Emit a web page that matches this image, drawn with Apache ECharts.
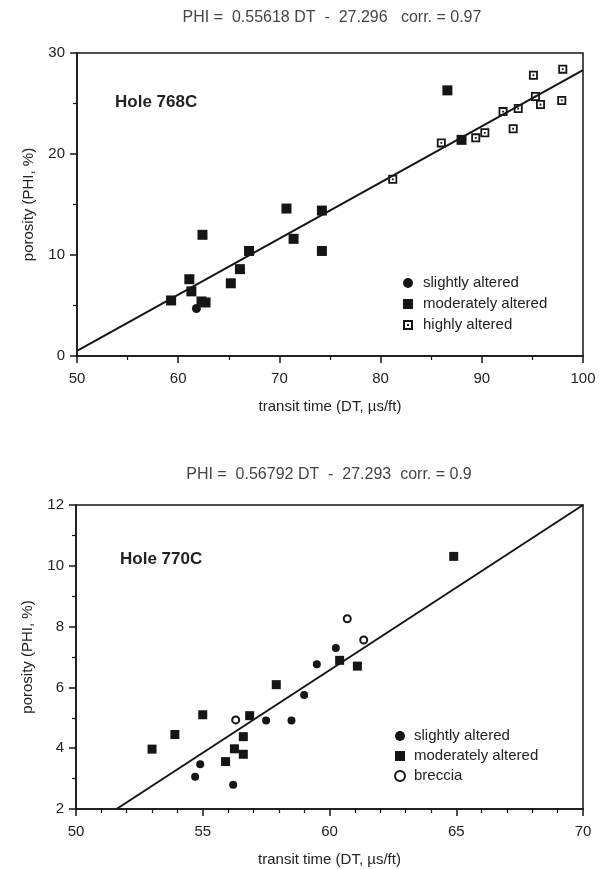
<!DOCTYPE html>
<html>
<head>
<meta charset="utf-8">
<script src="https://cdn.jsdelivr.net/npm/echarts@6/dist/echarts.min.js"></script>
<style>
  html, body { margin: 0; padding: 0; background: #fff; }
  #chart { width: 603px; height: 869px; }
</style>
</head>
<body>
<div id="chart"></div>
<script>
// ---------- Data ----------
// Hole 768C
const topSlightlyDT  = [61.8];
const topSlightlyPHI = [4.7];
const topModerateDT  = [59.3, 61.1, 61.3, 62.4, 62.3, 62.7, 65.2, 66.1, 67.0, 70.7, 71.4, 74.2, 74.2, 86.6, 88.0];
const topModeratePHI = [5.5, 7.6, 6.4, 12.0, 5.4, 5.3, 7.2, 8.6, 10.4, 14.6, 11.6, 14.4, 10.4, 26.3, 21.4];
const topHighDT      = [81.2, 86.0, 89.4, 90.3, 92.1, 93.6, 93.1, 95.1, 95.3, 95.8, 98.0, 97.9];
const topHighPHI     = [17.5, 21.1, 21.6, 22.1, 24.2, 24.5, 22.5, 27.8, 25.7, 24.9, 28.4, 25.3];
// fitted line as drawn (end points)
const topLineDT  = [50, 100];
const topLinePHI = [0.5, 28.3];
// Hole 770C
const botSlightlyDT  = [54.9, 54.7, 56.2, 57.5, 58.5, 59.0, 59.5, 60.25];
const botSlightlyPHI = [3.47, 3.06, 2.8, 4.91, 4.91, 5.75, 6.76, 7.3];
const botModerateDT  = [53.0, 53.9, 55.0, 55.9, 56.25, 56.6, 56.6, 56.85, 57.9, 60.4, 61.1, 64.9];
const botModeratePHI = [3.97, 4.45, 5.1, 3.56, 3.98, 3.8, 4.38, 5.07, 6.09, 6.89, 6.7, 10.31];
const botBrecciaDT   = [56.3, 60.7, 61.35];
const botBrecciaPHI  = [4.93, 8.26, 7.56];
const botLineDT  = [51.6, 70];
const botLinePHI = [2, 12];
// Axes ranges / tick spacing
const topXRange = [50, 100, 10];
const topYRange = [0, 30, 10];
const botXRange = [50, 70, 5];
const botYRange = [2, 12, 2];
// Texts
const topTitle = 'PHI =  0.55618 DT  -  27.296   corr. = 0.97';
const botTitle = 'PHI =  0.56792 DT  -  27.293  corr. = 0.9';
const topHole = 'Hole 768C';
const botHole = 'Hole 770C';
const xName = 'transit time (DT, \u00b5s/ft)';
const yName = 'porosity (PHI, %)';
const topLegend = ['slightly altered', 'moderately altered', 'highly altered'];
const botLegend = ['slightly altered', 'moderately altered', 'breccia'];

// ---------- Helpers ----------
const zip = (xs, ys) => xs.map((x, i) => [x, ys[i]]);

const FONT = '"Liberation Sans", Arial, Helvetica, sans-serif';
const INK = '#151515';
const openSquare = 'path://M0,0 L10,0 L10,10 L0,10 Z M2,2 L2,8 L8,8 L8,2 Z M4,4 L6,4 L6,6 L4,6 Z';

function xAxis(gi, r, minorSplit) {
  return {
    type: 'value', gridIndex: gi, min: r[0], max: r[1], interval: r[2],
    name: xName, nameLocation: 'middle', nameGap: 43,
    nameTextStyle: { fontFamily: FONT, fontSize: 15, color: '#222' },
    axisLine: { show: true, lineStyle: { color: INK, width: 1.5 } },
    axisTick: { show: true, inside: false, length: 7, lineStyle: { color: INK, width: 1.5 } },
    minorTick: { show: true, splitNumber: minorSplit, length: 4, lineStyle: { color: INK, width: 1.2 } },
    splitLine: { show: false },
    axisLabel: { fontFamily: FONT, fontSize: 15, color: '#222', margin: 15 }
  };
}
function yAxis(gi, r, minorSplit) {
  return {
    type: 'value', gridIndex: gi, min: r[0], max: r[1], interval: r[2],
    name: yName, nameLocation: 'middle', nameGap: 41, nameRotate: 90,
    nameTextStyle: { fontFamily: FONT, fontSize: 15, color: '#222' },
    axisLine: { show: true, lineStyle: { color: INK, width: 1.5 } },
    axisTick: { show: true, inside: false, length: 7, lineStyle: { color: INK, width: 1.5 } },
    minorTick: { show: true, splitNumber: minorSplit, length: 4, lineStyle: { color: INK, width: 1.2 } },
    splitLine: { show: false },
    axisLabel: { fontFamily: FONT, fontSize: 15, color: '#222', margin: 12 }
  };
}

const chart = echarts.init(document.getElementById('chart'), null, { renderer: 'canvas' });
const option = {
  backgroundColor: '#fff',
  animation: false,
  grid: [
    { left: 77, top: 53, width: 506, height: 303, show: true, borderColor: INK, borderWidth: 1.5, backgroundColor: 'transparent' },
    { left: 76, top: 505, width: 507, height: 304, show: true, borderColor: INK, borderWidth: 1.5, backgroundColor: 'transparent' }
  ],
  xAxis: [xAxis(0, topXRange, 2), xAxis(1, botXRange, 5)],
  yAxis: [yAxis(0, topYRange, 2), yAxis(1, botYRange, 2)],
  legend: [
    {
      data: [
        { name: 'T_' + topLegend[0], icon: 'circle' },
        { name: 'T_' + topLegend[1], icon: 'rect' },
        { name: 'T_' + topLegend[2], icon: openSquare }
      ],
      formatter: n => n.slice(2),
      orient: 'vertical', left: 398, top: 270, itemWidth: 10, itemHeight: 10, itemGap: 5,
      textStyle: { fontFamily: FONT, fontSize: 15, color: '#222', lineHeight: 16, padding: [0, 0, 0, 5] },
      selectedMode: false
    },
    {
      data: [
        { name: 'B_' + botLegend[0], icon: 'circle' },
        { name: 'B_' + botLegend[1], icon: 'rect' },
        { name: 'B_' + botLegend[2], icon: 'circle' }
      ],
      formatter: n => n.slice(2),
      orient: 'vertical', left: 389, top: 723, itemWidth: 10, itemHeight: 10, itemGap: 4,
      textStyle: { fontFamily: FONT, fontSize: 15, color: '#222', lineHeight: 16, padding: [0, 0, 0, 4] },
      selectedMode: false
    }
  ],
  graphic: [
    { type: 'text', x: 332, y: 18, style: { text: topTitle, font: '16px ' + FONT, fill: '#444', textAlign: 'center', textVerticalAlign: 'middle' } },
    { type: 'text', x: 329, y: 475, style: { text: botTitle, font: '16px ' + FONT, fill: '#444', textAlign: 'center', textVerticalAlign: 'middle' } },
    { type: 'text', x: 115, y: 102, style: { text: topHole, font: 'bold 17px ' + FONT, fill: '#222', textAlign: 'left', textVerticalAlign: 'middle' } },
    { type: 'text', x: 120, y: 559, style: { text: botHole, font: 'bold 17px ' + FONT, fill: '#222', textAlign: 'left', textVerticalAlign: 'middle' } }
  ],
  series: [
    { type: 'line', xAxisIndex: 0, yAxisIndex: 0, data: zip(topLineDT, topLinePHI), symbol: 'none',
      lineStyle: { color: INK, width: 2 }, z: 1, silent: true },
    { type: 'line', xAxisIndex: 1, yAxisIndex: 1, data: zip(botLineDT, botLinePHI), symbol: 'none',
      lineStyle: { color: INK, width: 2 }, z: 1, silent: true },
    { name: 'T_' + topLegend[0], type: 'scatter', xAxisIndex: 0, yAxisIndex: 0, data: zip(topSlightlyDT, topSlightlyPHI),
      symbol: 'circle', symbolSize: 9, itemStyle: { color: INK, opacity: 1 }, z: 3 },
    { name: 'T_' + topLegend[1], type: 'scatter', xAxisIndex: 0, yAxisIndex: 0, data: zip(topModerateDT, topModeratePHI),
      symbol: 'rect', symbolSize: 10, itemStyle: { color: INK, opacity: 1 }, z: 3 },
    { name: 'T_' + topLegend[2], type: 'scatter', xAxisIndex: 0, yAxisIndex: 0, data: zip(topHighDT, topHighPHI),
      symbol: openSquare, symbolSize: 9, itemStyle: { color: INK, opacity: 1 }, z: 3 },
    { name: 'B_' + botLegend[0], type: 'scatter', xAxisIndex: 1, yAxisIndex: 1, data: zip(botSlightlyDT, botSlightlyPHI),
      symbol: 'circle', symbolSize: 8, itemStyle: { color: INK, opacity: 1 }, z: 3 },
    { name: 'B_' + botLegend[1], type: 'scatter', xAxisIndex: 1, yAxisIndex: 1, data: zip(botModerateDT, botModeratePHI),
      symbol: 'rect', symbolSize: 9, itemStyle: { color: INK, opacity: 1 }, z: 3 },
    { name: 'B_' + botLegend[2], type: 'scatter', xAxisIndex: 1, yAxisIndex: 1, data: zip(botBrecciaDT, botBrecciaPHI),
      symbol: 'circle', symbolSize: 7, itemStyle: { color: '#fff', borderColor: INK, borderWidth: 2, opacity: 1 }, z: 3 }
  ]
};
chart.setOption(option);
</script>
</body>
</html>
